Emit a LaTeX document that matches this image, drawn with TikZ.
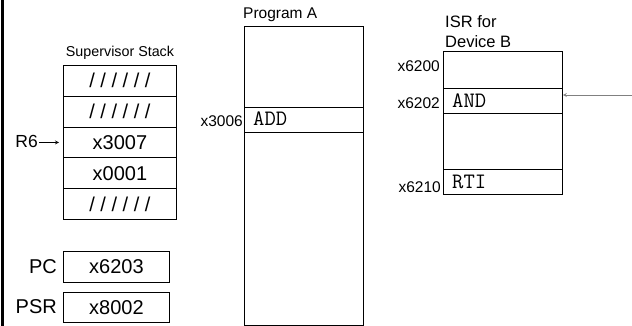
\documentclass[tikz,border=0pt]{standalone}
\usepackage{fontspec}
\setmainfont{Liberation Sans}
\tikzset{
  cell/.style={draw, line width=0.8pt, inner sep=0pt, anchor=north west},
  val/.style={font=\fontsize{20}{22}\selectfont},
  lbl/.style={font=\fontsize{15.5}{18}\selectfont},
  code/.style={font=\fontsize{22}{24}\ttfamily, anchor=base west, inner sep=0pt},
}
\begin{document}
\begin{tikzpicture}[x=1pt, y=-1pt, >=stealth]
  \useasboundingbox (0,0) rectangle (632,326);
  \fill (1,0) rectangle (4,326);

  % Supervisor stack
  \node[lbl, font=\fontsize{14.3}{16}\selectfont, anchor=base] (stacktitle) at (120,56.5) {Supervisor Stack};
  \node[cell, val, minimum width=113pt, minimum height=30.8pt] (s1) at (63,65) {/ / / / / /};
  \node[cell, val, minimum width=113pt, minimum height=30.8pt] (s2) at (63,95.8) {/ / / / / /};
  \node[cell, val, minimum width=113pt, minimum height=30.8pt] (s3) at (63,126.6) {x3007};
  \node[cell, val, minimum width=113pt, minimum height=30.8pt] (s4) at (63,157.4) {x0001};
  \node[cell, val, minimum width=113pt, minimum height=30.8pt] (s5) at (63,188.2) {/ / / / / /};
  \node[font=\fontsize{17.5}{20}\selectfont, anchor=base east, inner sep=1pt] (r6) at (39,148) {R6};
  \draw[->, line width=0.8pt, shorten >=4pt] (r6.east |- s3.west) -- (s3.west);

  % PC and PSR
  \node[cell, val, minimum width=106pt, minimum height=31pt] (pc) at (63,251) {x6203};
  \node[cell, val, minimum width=106pt, minimum height=30pt] (psr) at (63,292) {x8002};
  \node[val, anchor=east, inner sep=0pt] (pclbl) at (57,266.5) {PC};
  \node[val, anchor=east, inner sep=0pt] (psrlbl) at (57,307) {PSR};

  % Program A
  \node[lbl, anchor=base west, inner sep=0pt] (progtitle) at (243,19) {Program A};
  \node[cell, minimum width=119pt, minimum height=299pt] (prog) at (244,26) {};
  \node[cell, minimum width=119pt, minimum height=25pt] (addrow) at (244,107) {};
  \node[code] (addtxt) at (253,126) {ADD};
  \node[lbl, anchor=base east, inner sep=0pt] (a3006) at (243,127) {x3006};

  % ISR for device B
  \node[lbl, font=\fontsize{16.5}{19}\selectfont, anchor=base west, inner sep=0pt] (isrtop) at (445,27.3) {ISR for};
  \node[lbl, font=\fontsize{16.5}{19}\selectfont, anchor=base west, inner sep=0pt] (isrbot) at (445,47.3) {Device B};
  \node[cell, minimum width=119pt, minimum height=143pt] (isr) at (443,51) {};
  \node[cell, minimum width=119pt, minimum height=25pt] (androw) at (443,88) {};
  \node[cell, minimum width=119pt, minimum height=25pt] (rtirow) at (443,169) {};
  \node[code] (andtxt) at (452,107.3) {AND};
  \node[code] (rtitxt) at (452,188.3) {RTI};
  \node[lbl, anchor=base east, inner sep=0pt] (a6200) at (440,71.7) {x6200};
  \node[lbl, anchor=base east, inner sep=0pt] (a6202) at (440,109) {x6202};
  \node[lbl, anchor=base east, inner sep=0pt] (a6210) at (441,192.7) {x6210};
  \coordinate (devb) at (632,95);
  \draw[->, gray, line width=0.8pt] (devb) -- (devb -| androw.east);
\end{tikzpicture}
\end{document}
